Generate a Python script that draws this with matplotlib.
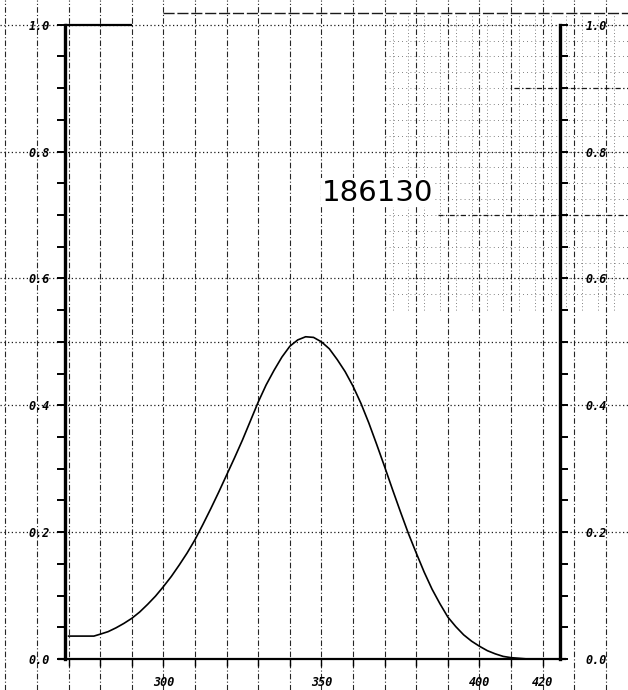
import numpy as np
import matplotlib.pyplot as plt
from matplotlib.ticker import FixedLocator, FixedFormatter, MultipleLocator

# absorption curve (nm, relative value)
wavelength = [270, 275, 278, 280, 282.5, 285, 287.5, 290, 292.5, 295, 297.5,
              300, 302.5, 305, 307.5, 310, 312.5, 315, 317.5, 320, 322.5, 325,
              327.5, 330, 332.5, 335, 337.5, 340, 342.5, 345, 347.5, 350, 352.5,
              355, 357.5, 360, 362.5, 365, 367.5, 370, 372.5, 375, 377.5, 380,
              382.5, 385, 387.5, 390, 392.5, 395, 397.5, 400, 402.5, 405, 407.5,
              410, 415, 420, 425]
absorb = [0.036, 0.036, 0.036, 0.039, 0.043, 0.049, 0.056, 0.064, 0.074, 0.086,
          0.099, 0.114, 0.130, 0.148, 0.167, 0.188, 0.212, 0.237, 0.263, 0.290,
          0.317, 0.345, 0.375, 0.405, 0.432, 0.455, 0.476, 0.493, 0.503, 0.508,
          0.507, 0.500, 0.489, 0.472, 0.453, 0.430, 0.403, 0.372, 0.338, 0.303,
          0.267, 0.232, 0.198, 0.167, 0.137, 0.110, 0.087, 0.066, 0.051, 0.038,
          0.028, 0.020, 0.013, 0.008, 0.004, 0.002, 0.0, 0.0, 0.0]

x_ticks = [300, 350, 400, 420]
x_labels = ["300", "350", "400", "420"]
y_ticks = [0.0, 0.2, 0.4, 0.6, 0.8, 1.0]
y_labels = ["0.0", "0.2", "0.4", "0.6", "0.8", "1.0"]
sample_id = "186130"

x_lo, x_hi = 248.3, 447.0
y_lo, y_hi = -0.049, 1.039
left_edge, right_edge = 269.0, 425.6

tick_font = dict(family="DejaVu Sans Mono", weight="bold", style="italic", size=8.5)

fig = plt.figure(figsize=(6.28, 6.90), dpi=100)
ax = fig.add_axes([0, 0, 1, 1])
ax.set_xlim(x_lo, x_hi)
ax.set_ylim(y_lo, y_hi)

# chart paper grid
for gx in np.arange(250, 441, 10):
    ax.axvline(gx, color="0.15", lw=0.8, dashes=(5, 2, 1, 2), zorder=1)
for gy in [0.2, 0.4, 0.5, 0.6, 0.8, 1.0]:
    ax.axhline(gy, color="0.1", lw=0.9, dashes=(1, 2), zorder=1)
ax.hlines([0.7, 0.9], [387, 411], x_hi, color="0.1", lw=0.9, linestyles=(0, (4, 2, 1, 2)), zorder=1)
ax.hlines(1.019, 300, x_hi, color="0.1", lw=1.0, linestyles=(0, (8, 2)), zorder=1)

# faint fine ruling in the upper right of the sheet
fine_x = np.arange(372.5, 447, 5)
fine_y = np.arange(0.575, 1.01, 0.025)
ax.vlines(fine_x, 0.55, 1.019, color="0.35", lw=0.6, linestyles=(0, (1, 3)), zorder=0)
ax.hlines(fine_y, 370, x_hi, color="0.35", lw=0.6, linestyles=(0, (1, 4)), zorder=0)

ax.plot(wavelength, absorb, color="black", lw=1.2, zorder=3)

# frame: thick spines placed in data coordinates
ax.spines["top"].set_visible(False)
ax.spines["right"].set_visible(False)
ax.spines["left"].set_position(("data", left_edge))
ax.spines["left"].set_bounds(0, 1.0)
ax.spines["left"].set_linewidth(2.4)
ax.spines["bottom"].set_position(("data", 0))
ax.spines["bottom"].set_bounds(267, 427)
ax.spines["bottom"].set_linewidth(1.6)
ax.hlines(1.0, left_edge, 290, color="black", lw=1.6, zorder=2)

ax.xaxis.set_major_locator(FixedLocator(x_ticks))
ax.xaxis.set_major_formatter(FixedFormatter(x_labels))
ax.xaxis.set_minor_locator(FixedLocator(list(range(270, 421, 10))))
ax.tick_params(axis="x", which="both", direction="out", length=5, width=1.0, pad=7)
for lab in ax.get_xticklabels():
    lab.set(**tick_font)

ax.yaxis.set_major_locator(FixedLocator(y_ticks))
ax.yaxis.set_major_formatter(FixedFormatter(y_labels))
ax.yaxis.set_minor_locator(MultipleLocator(0.05))
ax.tick_params(axis="y", which="both", direction="out", length=6, width=1.4, pad=5)
for lab in ax.get_yticklabels():
    lab.set(**tick_font)

# right hand scale on a twin axis
ax2 = ax.twinx()
ax2.set_ylim(y_lo, y_hi)
for side in ["top", "left", "bottom"]:
    ax2.spines[side].set_visible(False)
ax2.spines["right"].set_position(("data", right_edge))
ax2.spines["right"].set_bounds(0, 1.0)
ax2.spines["right"].set_linewidth(2.4)
ax2.yaxis.set_major_locator(FixedLocator(y_ticks))
ax2.yaxis.set_major_formatter(FixedFormatter(y_labels))
ax2.yaxis.set_minor_locator(MultipleLocator(0.05))
ax2.tick_params(axis="y", which="both", direction="out", length=6, width=1.4, pad=12)
for lab in ax2.get_yticklabels():
    lab.set(**tick_font)

ax.text(367.6, 0.735, sample_id, fontsize=21, family="DejaVu Sans",
        ha="center", va="center", zorder=4,
        bbox=dict(facecolor="white", edgecolor="none", pad=0.5))

fig.savefig("out.png", dpi=100)
